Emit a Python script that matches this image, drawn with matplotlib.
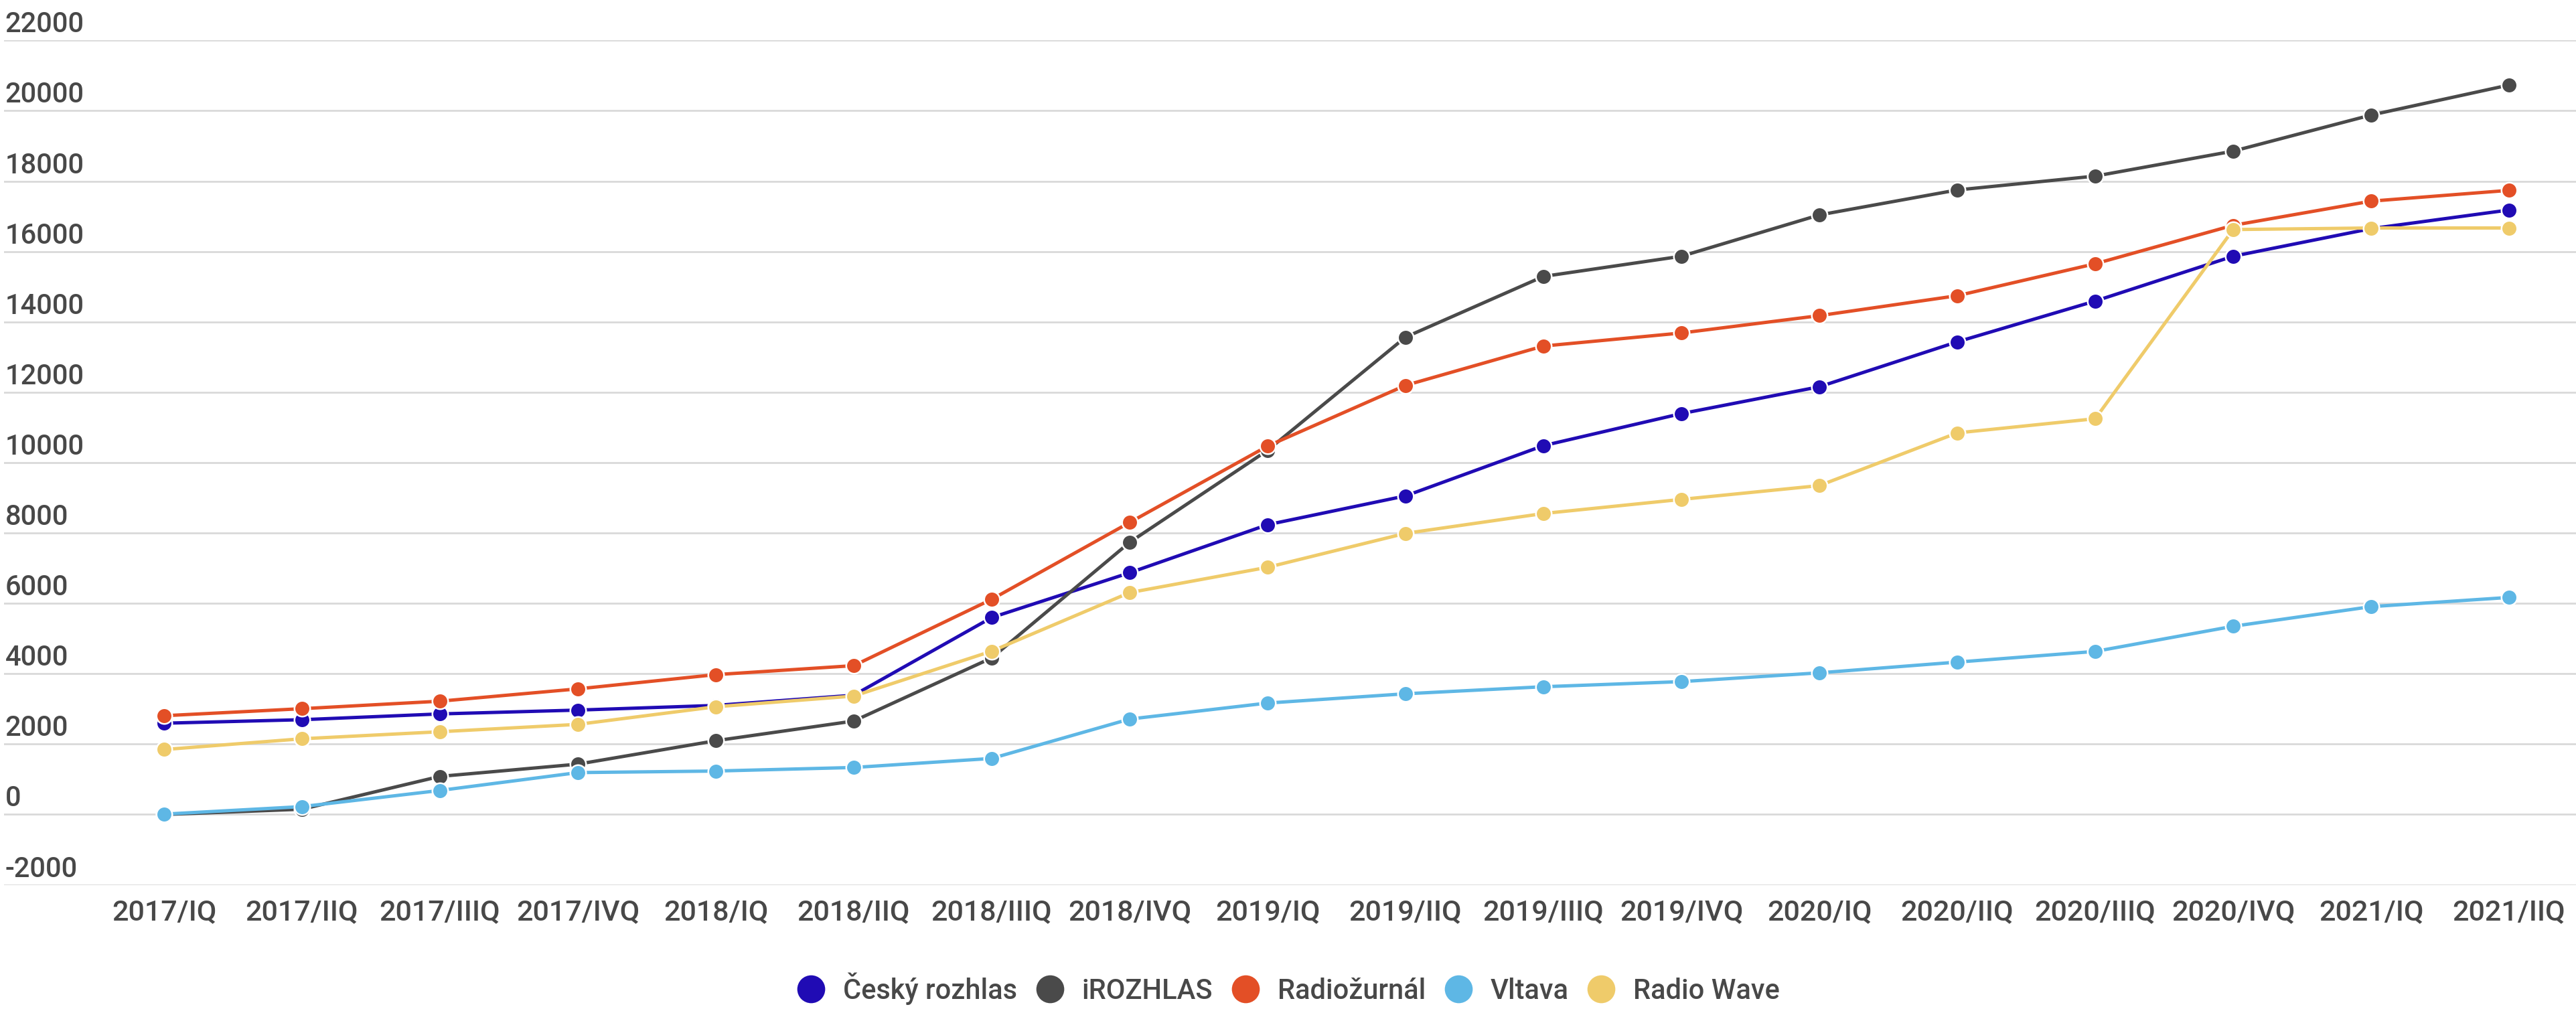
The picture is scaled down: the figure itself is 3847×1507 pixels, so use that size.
import matplotlib
matplotlib.use("Agg")
import matplotlib.pyplot as plt
from matplotlib.lines import Line2D
from matplotlib.transforms import blended_transform_factory, offset_copy

plt.rcParams['font.family'] = ['Roboto', 'DejaVu Sans']

categories = ["2017/IQ", "2017/IIQ", "2017/IIIQ", "2017/IVQ", "2018/IQ", "2018/IIQ",
              "2018/IIIQ", "2018/IVQ", "2019/IQ", "2019/IIQ", "2019/IIIQ", "2019/IVQ",
              "2020/IQ", "2020/IIQ", "2020/IIIQ", "2020/IVQ", "2021/IQ", "2021/IIQ"]

cesky_rozhlas = [2594, 2694, 2858, 2967, 3100, 3390, 5597, 6870, 8236, 9054, 10483, 11393,
                 12156, 13433, 14592, 15865, 16650, 17180]
irozhlas = [0, 150, 1083, 1431, 2097, 2656, 4450, 7735, 10350, 13566, 15292, 15865,
            17039, 17749, 18143, 18852, 19878, 20731]
radiozurnal = [2807, 3007, 3220, 3570, 3975, 4230, 6115, 8299, 10470, 12196, 13313, 13684,
               14177, 14744, 15652, 16744, 17431, 17738]
vltava = [10, 224, 683, 1191, 1235, 1336, 1593, 2712, 3167, 3431, 3631, 3776,
          4026, 4331, 4635, 5349, 5907, 6169]
radio_wave = [1846, 2152, 2352, 2561, 3062, 3366, 4641, 6306, 7025, 7990, 8554, 8955,
              9347, 10845, 11248, 16624, 16668, 16668]

series_names = ["Český rozhlas", "iROZHLAS", "Radiožurnál", "Vltava", "Radio Wave"]
series_values = [cesky_rozhlas, irozhlas, radiozurnal, vltava, radio_wave]
colors = ["#200bb4", "#4a4a4a", "#e34f26", "#5eb7e5", "#efcb6a"]

y_ticks = [-2000, 0, 2000, 4000, 6000, 8000, 10000, 12000, 14000, 16000, 18000, 20000, 22000]

text_color = "#484848"
weight = 'medium'
W, H = 3848, 1507
fig = plt.figure(figsize=(W / 100, H / 100), dpi=100)
ax_left = 6 / W
ax_bottom = (H - 1321.6) / H
ax_top = (H - 60.3) / H
ax = fig.add_axes([ax_left, ax_bottom, 1 - ax_left, ax_top - ax_bottom])

x = list(range(len(categories)))
for name, vals, c in zip(series_names, series_values, colors):
    ax.plot(x, vals, color=c, lw=3.6, marker='o', markersize=16.9,
            markerfacecolor=c, markeredgecolor='white', markeredgewidth=1.8,
            solid_joinstyle='round', clip_on=False, label=name)

ax.set_ylim(-2000, 22000)
ax.set_xlim(-1.16, 17.49)
ax.set_yticks(y_ticks)
ax.set_yticklabels([])
ax.yaxis.grid(True, color='#d9d9d9', lw=2.0)
ax.set_axisbelow(True)
ax.set_xticks(x)
ax.set_xticklabels(categories, fontsize=31, color=text_color, fontweight=weight)
ax.tick_params(axis='x', length=0, pad=15)
ax.tick_params(axis='y', length=0)
for s in ax.spines.values():
    s.set_visible(False)

trans = blended_transform_factory(ax.transAxes, ax.transData)
trans = offset_copy(trans, fig=fig, x=1, y=12, units='dots')
for t in y_ticks:
    ax.text(0.0002, t, str(t), transform=trans, fontsize=30, color=text_color,
            ha='left', va='baseline', fontweight=weight)

handles = [Line2D([], [], linestyle='', marker='o', markersize=30, markerfacecolor=c,
                  markeredgewidth=0, color=c) for c in colors]
leg = fig.legend(handles, series_names, loc='center', bbox_to_anchor=(0.5, (H - 1476.7) / H),
                 ncol=5, frameon=False, fontsize=30, handlelength=1.0, handletextpad=0.65,
                 columnspacing=0.67, labelcolor=text_color, prop={'size': 30, 'weight': weight})

fig.savefig("out.png", dpi=100)
